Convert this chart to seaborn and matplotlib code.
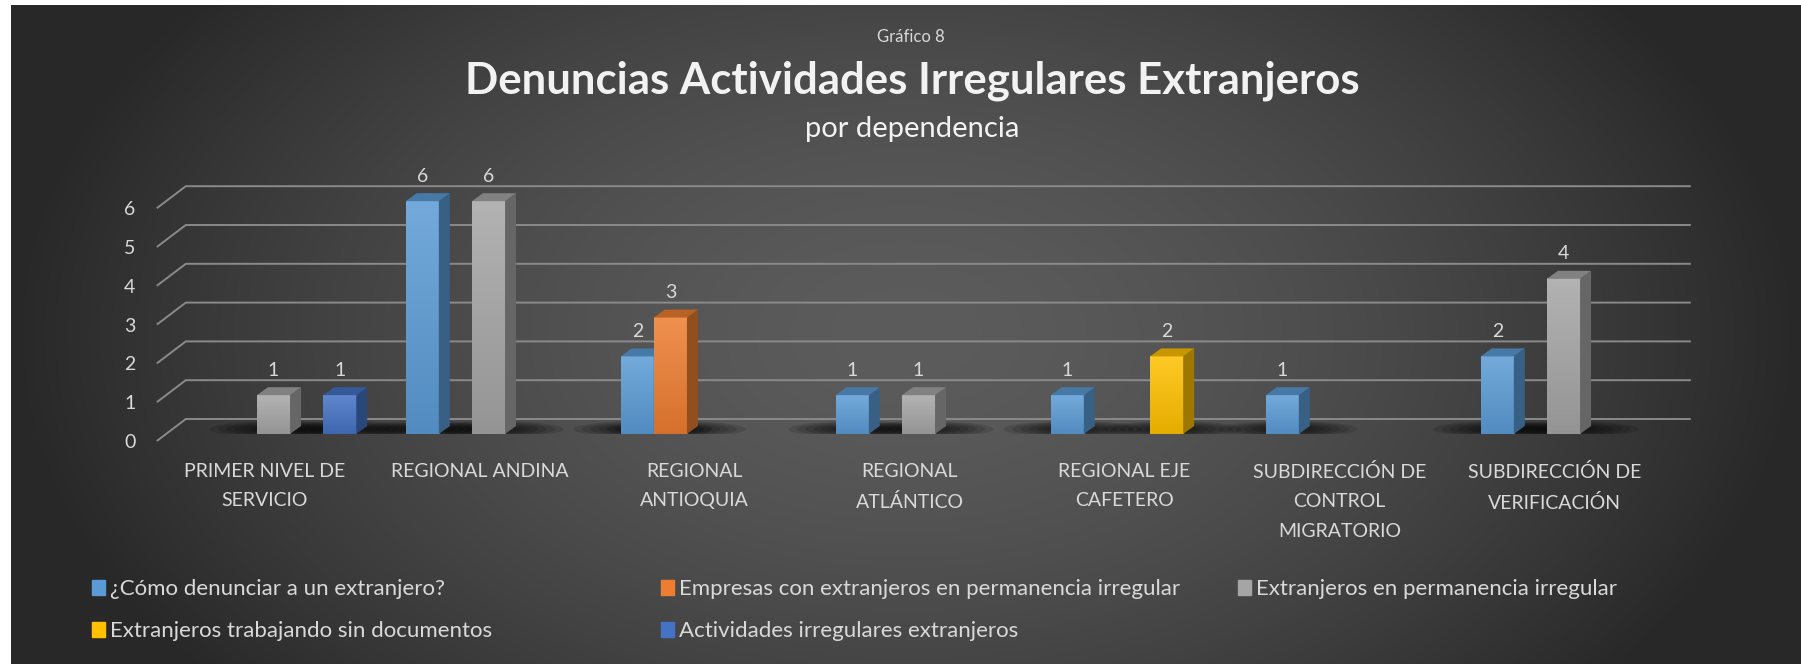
import numpy as np
import pandas as pd
import matplotlib
matplotlib.use('Agg')
import matplotlib.pyplot as plt
import matplotlib.patches as mpatches
from matplotlib.colors import LinearSegmentedColormap, to_rgb
from matplotlib.transforms import ScaledTranslation
import seaborn as sns

sns.set_theme(style='white')
plt.rcParams['font.family'] = ['Lato', 'DejaVu Sans']

# datos
dependencias = ['PRIMER NIVEL DE\nSERVICIO', 'REGIONAL ANDINA', 'REGIONAL\nANTIOQUIA', 'REGIONAL\nATLÁNTICO',
                'REGIONAL EJE\nCAFETERO', 'SUBDIRECCIÓN DE\nCONTROL\nMIGRATORIO', 'SUBDIRECCIÓN DE\nVERIFICACIÓN']
tipos = ['¿Cómo denunciar a un extranjero?', 'Empresas con extranjeros en permanencia irregular',
         'Extranjeros en permanencia irregular', 'Extranjeros trabajando sin documentos',
         'Actividades irregulares extranjeros']
como_denunciar = [0, 6, 2, 1, 1, 1, 2]
empresas = [0, 0, 3, 0, 0, 0, 0]
permanencia = [1, 6, 0, 1, 0, 0, 4]
trabajando = [0, 0, 0, 0, 2, 0, 0]
actividades = [1, 0, 0, 0, 0, 0, 0]

colores = ['#5B9BD5', '#ED7D31', '#A5A5A5', '#FFC000', '#4472C4']

df = pd.DataFrame({'dependencia': dependencias,
                   tipos[0]: como_denunciar, tipos[1]: empresas, tipos[2]: permanencia,
                   tipos[3]: trabajando, tipos[4]: actividades})
df = df.melt(id_vars='dependencia', var_name='tipo', value_name='valor')

W, H = 1801, 664
fig = plt.figure(figsize=(W / 100, H / 100), dpi=100, facecolor='white')

# fondo con degradado radial
bg = fig.add_axes([11 / W, 0, 1 - 11 / W, 1 - 5 / H], zorder=-10)
gx, gy = np.meshgrid(np.linspace(-1, 1, 600), np.linspace(-1, 1, 220))
r = np.clip(np.sqrt(gx ** 2 + 0.35 * gy ** 2), 0, 1)
g = (92 - 52 * r ** 1.6) / 255
bg.imshow(np.dstack([g, g, g]), aspect='auto', extent=[0, 1, 0, 1])
bg.axis('off')

# pixeles por unidad
px_cat, px_val = 215, 38.8
ax = fig.add_axes([166 / W, 230 / H, (1671 - 166) / W, 6.6 * px_val / H])
ax.patch.set_visible(False)

sns.barplot(data=df, x='dependencia', y='valor', hue='tipo', order=dependencias, hue_order=tipos,
            palette=colores, saturation=1, width=0.77, linewidth=0, legend=False, ax=ax)

# lineas de cuadricula en perspectiva
fx, fy = -9.2 / px_cat, -7 / px_val
bx, by = 19.8 / px_cat, 15 / px_val
for v in range(7):
    ax.plot([-0.5 + fx, -0.5 + bx, 6.5 + bx], [v + fy, v + by, v + by],
            color='#8a8a8a', lw=1.4, clip_on=False, zorder=0.5, solid_capstyle='butt')


def shade(c, f):
    c = np.array(to_rgb(c))
    if f >= 1:
        return tuple(c + (1 - c) * (f - 1))
    return tuple(c * f)


dx, dy = 11 / px_cat, 8 / px_val
for cont, col in zip(ax.containers, colores):
    cmap = LinearSegmentedColormap.from_list('g', [shade(col, 0.9), shade(col, 1.15)])
    for bar in cont:
        h = bar.get_height()
        if h <= 0:
            continue
        x0, w = bar.get_x(), bar.get_width()
        z = 2 + x0 * 0.01
        # sombra en el piso
        for k in range(6):
            ax.add_patch(mpatches.Ellipse((x0 + w / 2 + dx / 2, dy * 0.6), w * (4.2 - 0.5 * k), 0.42 - 0.05 * k,
                                          color='black', alpha=0.12, lw=0, zorder=0.7))
        bar.set_zorder(z)
        ax.imshow(np.linspace(0, 1, 60)[:, None], extent=[x0, x0 + w, 0, h], origin='lower',
                  cmap=cmap, aspect='auto', zorder=z + 0.001)
        ax.add_patch(mpatches.Polygon([(x0 + w, 0), (x0 + w, h), (x0 + w + dx, h + dy), (x0 + w + dx, dy)],
                                      closed=True, color=shade(col, 0.62), lw=0, zorder=z + 0.002, clip_on=False))
        ax.add_patch(mpatches.Polygon([(x0, h), (x0 + w, h), (x0 + w + dx, h + dy), (x0 + dx, h + dy)],
                                      closed=True, color=shade(col, 0.78), lw=0, zorder=z + 0.002, clip_on=False))
    ax.bar_label(cont, labels=[str(int(v)) if v > 0 else '' for v in cont.datavalues],
                 padding=12, color='#d9d9d9', fontsize=14, zorder=5)

ax.set_xlim(-0.5, 6.5)
ax.set_ylim(0, 6.6)
for s in ax.spines.values():
    s.set_visible(False)
ax.set_xlabel('')
ax.set_ylabel('')
ax.set_yticks(range(7))
ax.set_yticklabels([str(v) for v in range(7)])
ax.tick_params(axis='y', length=0, pad=22, labelsize=14, labelcolor='#d9d9d9')
ax.tick_params(axis='x', length=0, pad=21, labelsize=14, labelcolor='#d9d9d9')
ax.set_xticks(range(7))
ax.set_xticklabels(dependencias, linespacing=1.88)
for lab in ax.get_yticklabels():
    lab.set_transform(lab.get_transform() + ScaledTranslation(0, -0.07, fig.dpi_scale_trans))
for lab in ax.get_xticklabels():
    lab.set_transform(lab.get_transform() + ScaledTranslation(-0.09, 0, fig.dpi_scale_trans))

# titulos
fig.text(911 / W, 1 - 37 / H, 'Gráfico 8', ha='center', va='center', fontsize=12, color='#d9d9d9')
fig.text(912 / W, 1 - 81 / H, 'Denuncias Actividades Irregulares Extranjeros', ha='center', va='center',
         fontsize=31.5, fontweight='bold', color='#f2f2f2')
fig.text(912 / W, 1 - 129 / H, 'por dependencia', ha='center', va='center', fontsize=21, color='#f2f2f2')

# leyenda en tres columnas
handles = [mpatches.Patch(color=c, label=t) for c, t in zip(colores, tipos)]
columnas = [([handles[0], handles[3]], 92), ([handles[1], handles[4]], 661), ([handles[2]], 1238)]
for hs, xpx in columnas:
    leg = fig.legend(handles=hs, loc='upper left', bbox_to_anchor=(xpx / W, 1 - 579 / H), frameon=False,
                     fontsize=16, labelcolor='#d9d9d9', handlelength=0.58, handleheight=0.65,
                     handletextpad=0.25, labelspacing=1.0, borderpad=0, borderaxespad=0)

fig.savefig('out.png', dpi=100, facecolor='white')
